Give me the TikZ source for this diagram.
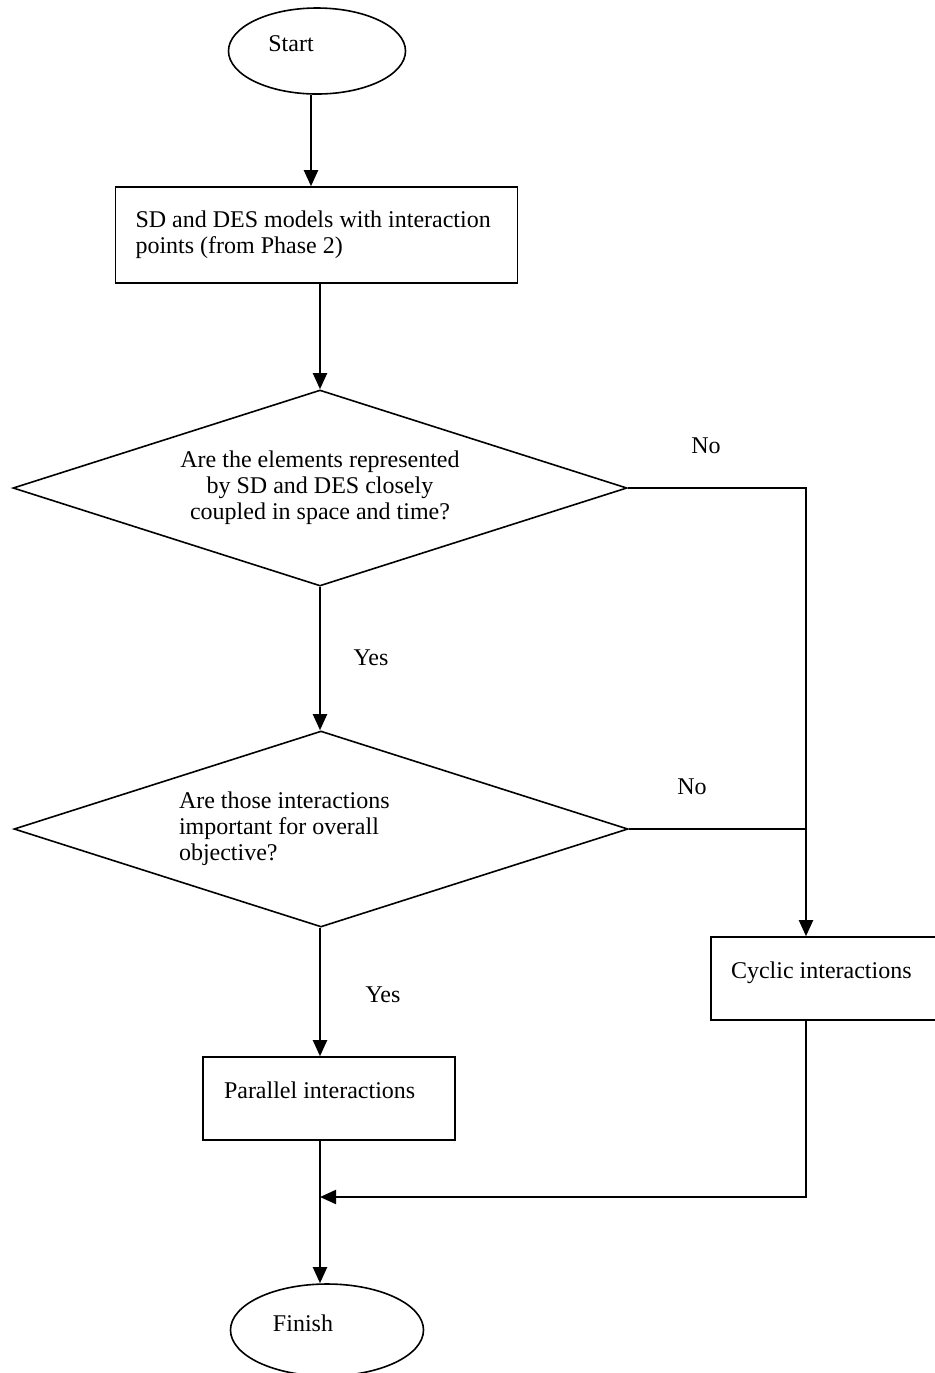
\documentclass[tikz,border=0pt]{standalone}
\usepackage{fontspec}
\setmainfont{Liberation Serif}
\usetikzlibrary{arrows.meta,shapes.geometric}

\begin{document}
\begin{tikzpicture}[x=0.5pt, y=-0.5pt, line width=1pt, >={Triangle[length=8pt,width=7pt]},
    font=\fontsize{12}{13}\selectfont,
    term/.style={draw, ellipse, line width=0.8pt, inner sep=0pt},
    box/.style={draw, rectangle, line width=0.8pt, align=flush left},
    onebox/.style={box, inner ysep=0pt, text height=20.75pt, text depth=20.75pt},
    test/.style={draw, diamond, line width=0.8pt, aspect=3.15, inner sep=0pt,
        minimum width=307pt, minimum height=98pt},
    lbl/.style={inner sep=0pt}]
  \clip (0,0) rectangle (935,1373);
  % terminals
  \node[term, minimum width=88.5pt, minimum height=43pt] (start) at (317,51) {};
  \node[lbl] (starttxt) at (291,44) {Start};
  \node[term, minimum width=96.5pt, minimum height=46pt] (finish) at (327,1330) {};
  \node[lbl] (finishtxt) at (303,1323) {Finish};
  % process boxes
  \node[box, text width=181pt, inner xsep=10pt, inner ysep=0pt, minimum height=48pt] (models) at (316.5,235)
      {SD and DES models with interaction\\points (from Phase 2)};
  \node[onebox, text width=100pt, inner xsep=10pt] (cyclic) at (831,978.5) {Cyclic interactions};
  \node[onebox, text width=105pt, inner xsep=10.5pt] (parallel) at (329,1098.5) {Parallel interactions};
  % decisions
  \node[test, align=center] (coupled) at (320,488)
      {Are the elements represented\\by SD and DES closely\\coupled in space and time?};
  \node[test, align=flush left, text width=142pt] (important) at (321,829)
      {Are those interactions\\important for overall\\objective?};
  % main line
  \draw[->] ([xshift=-3pt]start.south) -- ([xshift=-3pt]start.south |- models.north);
  \draw[->] (coupled.north |- models.south) -- (coupled.north);
  \draw[->] (coupled.south) -- (important.north -| coupled.south);
  \draw[->] (important.south -| coupled.south) -- (coupled.south |- parallel.north);
  \coordinate (turn) at (806,488);
  \coordinate (merge) at (320,1197);
  \draw[->] (coupled.south |- parallel.south) -- (coupled.south |- finish.north);
  % "No" branches and return
  \draw[->] (coupled.east) -- (turn) -- (turn |- cyclic.north);
  \draw (important.east) -- (important.east -| turn);
  \draw[->] (turn |- cyclic.south) |- (merge);
  % branch labels
  \node[lbl] (no1) at (706,446) {No};
  \node[lbl] (no2) at (692,787) {No};
  \node[lbl] (yes1) at (371,658) {Yes};
  \node[lbl] (yes2) at (383,995) {Yes};
\end{tikzpicture}
\end{document}
